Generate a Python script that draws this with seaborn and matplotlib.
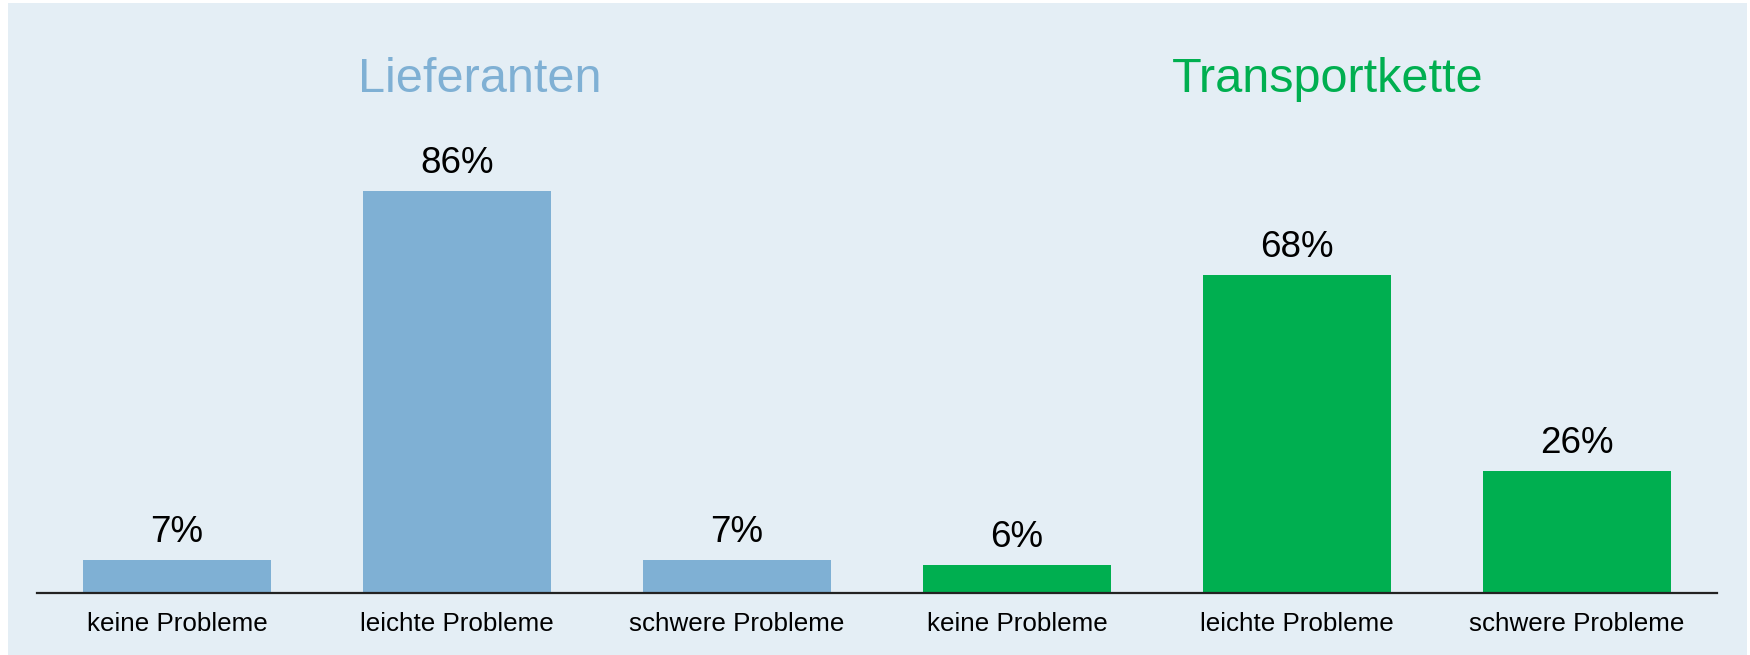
import matplotlib
matplotlib.use("Agg")
import matplotlib.pyplot as plt
import seaborn as sns
import pandas as pd
from matplotlib.patches import Rectangle

# Data
groups = ["Lieferanten", "Lieferanten", "Lieferanten",
          "Transportkette", "Transportkette", "Transportkette"]
categories = ["keine Probleme", "leichte Probleme", "schwere Probleme",
              "keine Probleme", "leichte Probleme", "schwere Probleme"]
values = [7, 86, 7, 6, 68, 26]
group_titles = ["Lieferanten", "Transportkette"]

blue = "#7FB0D4"
green = "#00AF50"
bg = "#E4EEF5"
group_colors = {"Lieferanten": blue, "Transportkette": green}

df = pd.DataFrame({
    "key": [f"{g}|{c}" for g, c in zip(groups, categories)],
    "group": groups,
    "category": categories,
    "value": values,
})

sns.set_theme(style="white")
plt.rcParams["font.family"] = ["Liberation Sans", "DejaVu Sans"]

fig = plt.figure(figsize=(17.5, 6.55), dpi=100)
fig.patch.set_facecolor("white")
fig.patches.append(Rectangle((8 / 1750, 0), (1747 - 8) / 1750, (655 - 3) / 655,
                             transform=fig.transFigure, facecolor=bg,
                             edgecolor="none", zorder=-10))

ax = fig.add_axes([37 / 1750, (655 - 593) / 655, (1717 - 37) / 1750, 590 / 655])
ax.set_facecolor("none")
ax.set_zorder(1)

palette = [group_colors[g] for g in groups]
sns.barplot(data=df, x="key", y="value", hue="key", palette=palette,
            width=0.67, legend=False, ax=ax, saturation=1, linewidth=0)

ax.set_xlim(-0.5, 5.5)
ax.set_ylim(0, 126.2)

for i, v in enumerate(values):
    ax.annotate(f"{v}%", xy=(i, v), xytext=(0, 13), textcoords="offset points",
                ha="center", va="baseline", fontsize=26.5, color="black")

title_x = [1.08, 4.11]
for t, x in zip(group_titles, title_x):
    ax.text(x, 107.1, t, ha="center", va="baseline", fontsize=35,
            color=group_colors[t])

ax.set_xticks(range(len(categories)))
ax.set_xticklabels(categories, fontsize=18.7, color="black")
ax.tick_params(axis="x", length=0, pad=14)
ax.set_yticks([])
ax.set_xlabel("")
ax.set_ylabel("")

for s in ["top", "right", "left"]:
    ax.spines[s].set_visible(False)
ax.spines["bottom"].set_color("#222222")
ax.spines["bottom"].set_linewidth(1.6)

fig.savefig("out.png", dpi=100)
